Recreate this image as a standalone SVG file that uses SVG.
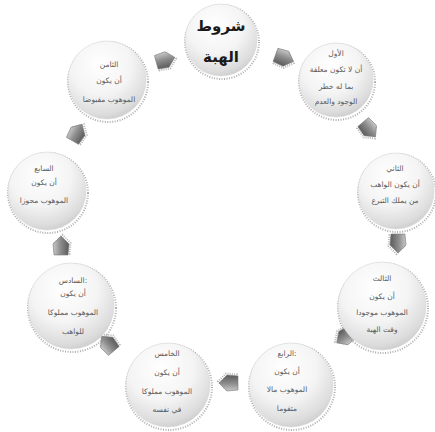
<svg xmlns="http://www.w3.org/2000/svg" width="435" height="432" viewBox="0 0 435 432">
<defs>
<radialGradient id="ball" cx="0.42" cy="0.3" r="0.78">
<stop offset="0" stop-color="#ffffff"/>
<stop offset="0.5" stop-color="#f4f4f4"/>
<stop offset="0.82" stop-color="#dcdcdc"/>
<stop offset="1" stop-color="#c2c2c2"/>
</radialGradient>
<linearGradient id="arr" x1="0" y1="0" x2="0" y2="1">
<stop offset="0" stop-color="#c8c8c8"/>
<stop offset="0.45" stop-color="#8e8e8e"/>
<stop offset="1" stop-color="#5a5a5a"/>
</linearGradient>
<path id="ah" d="M-9,-7 L2,-8 L10,0 L2,8 L-9,7 Z"/>
<style>
.sh{fill:none;stroke:#8c8c8c;stroke-width:2;stroke-dasharray:1 1.5;opacity:0.7}
.ball{fill:url(#ball);stroke:#d6d6d6;stroke-width:0.6}
.t{font-family:"DejaVu Sans",sans-serif;font-size:7.5px;fill:#5a5a5a;text-anchor:middle}
.title{font-family:"DejaVu Sans",sans-serif;font-size:15px;font-weight:bold;fill:#1a1a1a;text-anchor:middle}
.a{fill:url(#arr);stroke:#7a7a7a;stroke-width:0.6}
.as{fill:none;stroke:#999;stroke-width:2;stroke-dasharray:1 1.2;opacity:0.7}
</style>
</defs>
<rect width="435" height="432" fill="#ffffff"/>
<g id="connectors">
<g transform="translate(284,58) rotate(20)"><use href="#ah" class="as" transform="translate(1,1.5)"/><use href="#ah" class="a"/></g>
<g transform="translate(369,129) rotate(50)"><use href="#ah" class="as" transform="translate(1,1.5)"/><use href="#ah" class="a"/></g>
<g transform="translate(398,243) rotate(90)"><use href="#ah" class="as" transform="translate(1,1.5)"/><use href="#ah" class="a"/></g>
<g transform="translate(345,337) rotate(145)"><use href="#ah" class="as" transform="translate(1,1.5)"/><use href="#ah" class="a"/></g>
<g transform="translate(229,383) rotate(180)"><use href="#ah" class="as" transform="translate(1,1.5)"/><use href="#ah" class="a"/></g>
<g transform="translate(108,344) rotate(230)"><use href="#ah" class="as" transform="translate(1,1.5)"/><use href="#ah" class="a"/></g>
<g transform="translate(61,246) rotate(270)"><use href="#ah" class="as" transform="translate(1,1.5)"/><use href="#ah" class="a"/></g>
<g transform="translate(77,133) rotate(300)"><use href="#ah" class="as" transform="translate(1,1.5)"/><use href="#ah" class="a"/></g>
<g transform="translate(165,60) rotate(-15)"><use href="#ah" class="as" transform="translate(1,1.5)"/><use href="#ah" class="a"/></g>
</g>
<g id="title">
<circle class="sh" cx="222" cy="42" r="37"/>
<circle class="ball" cx="221" cy="40" r="36"/>
<text class="title" x="221" y="31">شروط</text>
<text class="title" x="221" y="62">الهبة</text>
</g>
<g id="n1">
<circle class="sh" cx="337" cy="82" r="38"/>
<circle class="ball" cx="336" cy="80" r="37"/>
<text class="t" x="336" y="56">الأول</text>
<text class="t" x="336" y="72">أن لا تكون معلقة</text>
<text class="t" x="336" y="89">بما له خطر</text>
<text class="t" x="336" y="104">الوجود والعدم</text>
</g>
<g id="n2">
<circle class="sh" cx="397" cy="193" r="39"/>
<circle class="ball" cx="396" cy="191" r="38"/>
<text class="t" x="395" y="171">الثاني</text>
<text class="t" x="395" y="187">أن يكون الواهب</text>
<text class="t" x="395" y="203">من يملك التبرع</text>
</g>
<g id="n3">
<circle class="sh" cx="383" cy="308" r="45"/>
<circle class="ball" cx="382" cy="306" r="44"/>
<text class="t" x="382" y="281">الثالث</text>
<text class="t" x="382" y="299">أن يكون</text>
<text class="t" x="382" y="315">الموهوب موجودا</text>
<text class="t" x="382" y="332">وقت الهبة</text>
</g>
<g id="n4">
<circle class="sh" cx="292" cy="387" r="43"/>
<circle class="ball" cx="291" cy="385" r="42"/>
<text class="t" x="287" y="356">الرابع:</text>
<text class="t" x="287" y="374">أن يكون</text>
<text class="t" x="287" y="392">الموهوب مالا</text>
<text class="t" x="287" y="411">متقوما</text>
</g>
<g id="n5">
<circle class="sh" cx="169" cy="387" r="43"/>
<circle class="ball" cx="168" cy="385" r="42"/>
<text class="t" x="167" y="356">الخامس</text>
<text class="t" x="167" y="375">أن يكون</text>
<text class="t" x="167" y="394">الموهوب مملوكا</text>
<text class="t" x="167" y="412">في نفسه</text>
</g>
<g id="n6">
<circle class="sh" cx="72" cy="308" r="44"/>
<circle class="ball" cx="71" cy="306" r="43"/>
<text class="t" x="73" y="283">السادس:</text>
<text class="t" x="73" y="296">أن يكون</text>
<text class="t" x="73" y="315">الموهوب مملوكا</text>
<text class="t" x="73" y="334">للواهب</text>
</g>
<g id="n7">
<circle class="sh" cx="48" cy="193" r="40"/>
<circle class="ball" cx="47" cy="191" r="39"/>
<text class="t" x="44" y="171">السابع</text>
<text class="t" x="44" y="185">أن يكون</text>
<text class="t" x="44" y="203">الموهوب محوزا</text>
</g>
<g id="n8">
<circle class="sh" cx="108" cy="82" r="40"/>
<circle class="ball" cx="107" cy="80" r="39"/>
<text class="t" x="109" y="67">الثامن</text>
<text class="t" x="109" y="83">أن يكون</text>
<text class="t" x="109" y="102">الموهوب مقبوضا</text>
</g>
</svg>
